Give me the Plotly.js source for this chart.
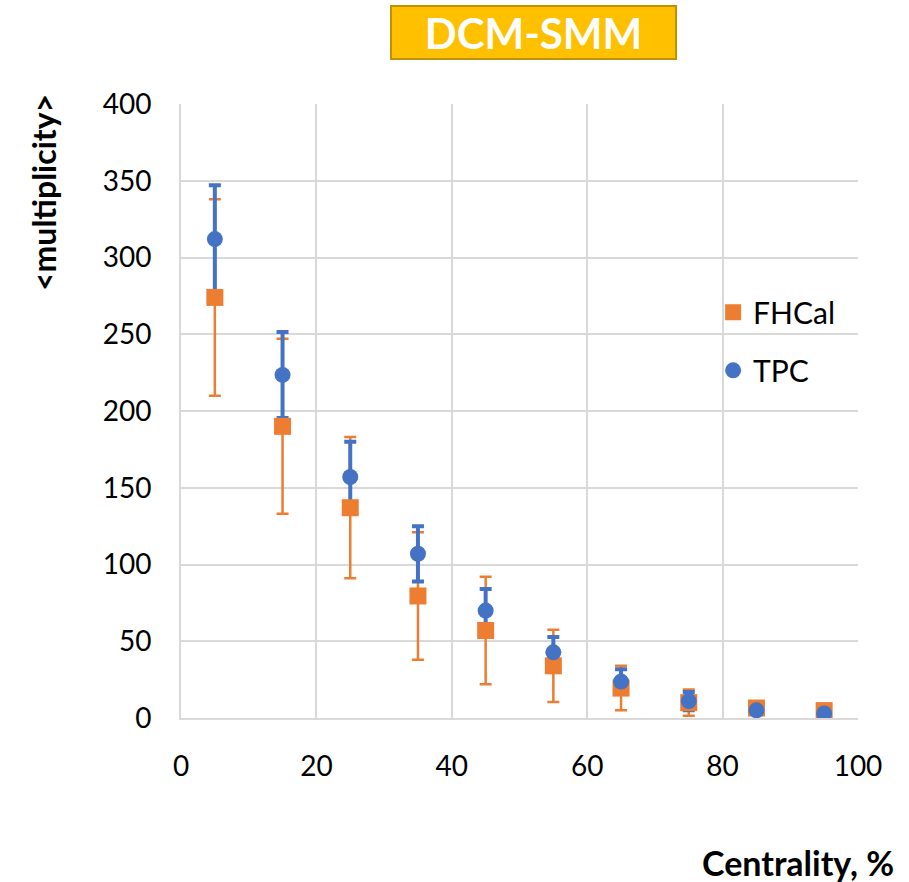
<!DOCTYPE html>
<html>
<head>
<meta charset="utf-8">
<script src="https://cdn.plot.ly/plotly-3.0.1.min.js"></script>
<style>
  html, body { margin: 0; padding: 0; background: #fff; }
  #chart { width: 909px; height: 882px; }
</style>
</head>
<body>
<div id="chart"></div>
<script>
// Centrality bins (bin centres, %)
const centrality = [5, 15, 25, 35, 45, 55, 65, 75, 85, 95];

// Mean multiplicity from the FHCal-based centrality classes
const fhcalMult = [274, 190, 137, 79.5, 57, 34, 19.5, 10, 6.5, 4.8];
const fhcalErr  = [64, 57, 46, 41.5, 35, 23.5, 14.5, 8.5, 0, 0];

// Mean multiplicity from the TPC-based centrality classes
const tpcMult = [312, 223.5, 157, 107, 70, 42.8, 23.7, 11, 5, 3];
const tpcErr  = [35, 28, 23, 18, 14, 10, 8, 6, 0, 0];

const xTicks = [0, 20, 40, 60, 80, 100];
const yTicks = [0, 50, 100, 150, 200, 250, 300, 350, 400];

const FONT = 'Lato, "Liberation Sans", sans-serif';
const ORANGE = '#ED7D31';
const BLUE = '#4472C4';
const GRID = '#D9D9D9';

// Error bars are drawn as their own layers first so that the markers of
// both series sit on top of every whisker.
const hidden = { size: 0.1, color: 'rgba(0,0,0,0)' };
const traces = [
  {
    type: 'scatter', mode: 'markers', showlegend: false, legendgroup: 'f',
    x: centrality, y: fhcalMult, marker: hidden, hoverinfo: 'skip',
    error_y: { type: 'data', array: fhcalErr, visible: true,
               color: ORANGE, thickness: 2.5, width: 6 }
  },
  {
    type: 'scatter', mode: 'markers', showlegend: false, legendgroup: 't',
    x: centrality, y: tpcMult, marker: hidden, hoverinfo: 'skip',
    error_y: { type: 'data', array: tpcErr, visible: true,
               color: BLUE, thickness: 4, width: 6 }
  },
  {
    type: 'scatter', mode: 'markers', name: 'FHCal', legendgroup: 'f',
    x: centrality, y: fhcalMult,
    marker: { symbol: 'square', size: 17, color: ORANGE }
  },
  {
    type: 'scatter', mode: 'markers', name: 'TPC', legendgroup: 't',
    x: centrality, y: tpcMult,
    marker: { symbol: 'circle', size: 16, color: BLUE }
  }
];

const layout = {
  width: 909, height: 882,
  paper_bgcolor: '#fff', plot_bgcolor: '#fff',
  margin: { l: 181, r: 51, t: 104, b: 164 },
  font: { family: FONT, size: 28, color: '#000' },
  showlegend: true,
  legend: {
    x: 0.786, xanchor: 'left', y: 0.703, yanchor: 'top',
    font: { family: FONT, size: 30, color: '#000' },
    bgcolor: 'rgba(0,0,0,0)', tracegroupgap: 16,
    traceorder: 'grouped', itemsizing: 'trace'
  },
  xaxis: {
    range: [0, 100], tickvals: xTicks, ticktext: xTicks.map(String),
    showgrid: true, gridcolor: GRID, gridwidth: 2,
    showline: true, linecolor: GRID, linewidth: 2,
    zeroline: false, ticks: '', ticklabelstandoff: 22,
    tickfont: { family: FONT, size: 28, color: '#000' }
  },
  yaxis: {
    range: [0, 400], tickvals: yTicks, ticktext: yTicks.map(String),
    showgrid: true, gridcolor: GRID, gridwidth: 2,
    showline: true, linecolor: GRID, linewidth: 2,
    zeroline: false, ticks: '', ticklabelstandoff: 22,
    tickfont: { family: FONT, size: 28, color: '#000' }
  },
  annotations: [
    {
      text: '<b>DCM-SMM</b>', xref: 'paper', yref: 'paper',
      x: 0.5207, y: 1.117, xanchor: 'center', yanchor: 'middle',
      showarrow: false, width: 283, height: 51, borderpad: 0,
      bgcolor: '#FFC000', bordercolor: '#BF9000', borderwidth: 2,
      font: { family: FONT, size: 42, color: '#fff' }
    },
    {
      text: '<b>&lt;multiplicity&gt;</b>', xref: 'paper', yref: 'paper',
      x: (44 - 181) / 677, y: (718 - 193) / 614,
      xanchor: 'center', yanchor: 'middle', textangle: -90,
      showarrow: false, font: { family: FONT, size: 32, color: '#000' }
    },
    {
      text: '<b>Centrality, %</b>', xref: 'paper', yref: 'paper',
      x: (798 - 181) / 677, y: (718 - 862) / 614,
      xanchor: 'center', yanchor: 'middle',
      showarrow: false, font: { family: FONT, size: 34, color: '#000' }
    }
  ]
};

Plotly.newPlot('chart', traces, layout, { displayModeBar: false, staticPlot: true });
</script>
</body>
</html>
